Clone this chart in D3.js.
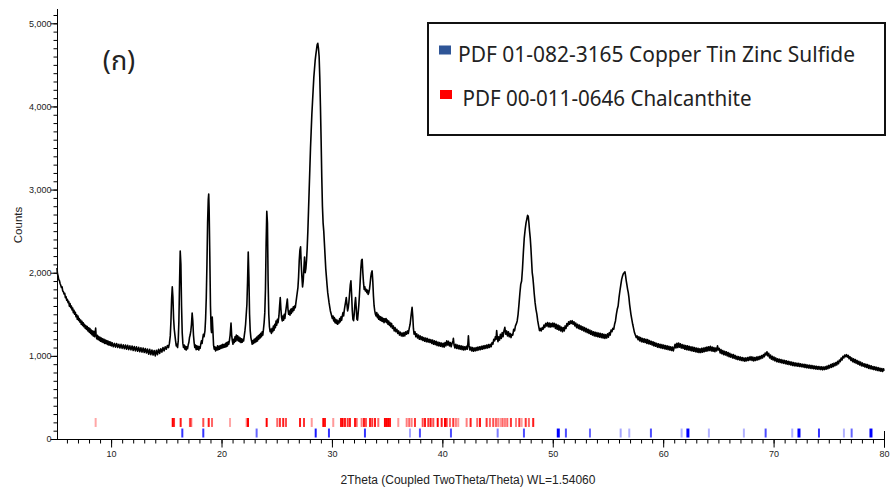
<!DOCTYPE html>
<html><head><meta charset="utf-8">
<script src="https://cdn.jsdelivr.net/npm/d3@7"></script>
<style>body{margin:0;background:#fff}svg{display:block}</style>
</head><body><svg id="c" width="892" height="491"></svg>
<script>
// ---- data ----
const pattern = [[5.10,2057],[5.14,1990],[5.20,1960],[5.26,1915],[5.32,1905],[5.38,1870],[5.44,1850],[5.50,1822],[5.56,1830],[5.62,1780],[5.68,1770],[5.74,1745],[5.80,1752],[5.86,1700],[5.92,1712],[5.98,1668],[6.04,1680],[6.10,1640],[6.16,1655],[6.22,1598],[6.28,1630],[6.34,1580],[6.40,1600],[6.46,1552],[6.52,1575],[6.58,1520],[6.64,1548],[6.70,1500],[6.76,1525],[6.82,1470],[6.88,1495],[6.94,1440],[7.00,1478],[7.06,1425],[7.12,1448],[7.18,1405],[7.24,1432],[7.30,1380],[7.36,1415],[7.42,1365],[7.48,1398],[7.54,1350],[7.60,1378],[7.66,1330],[7.72,1362],[7.78,1318],[7.84,1352],[7.90,1300],[7.96,1338],[8.02,1285],[8.08,1330],[8.14,1270],[8.20,1310],[8.26,1255],[8.32,1300],[8.38,1240],[8.44,1295],[8.50,1230],[8.56,1270],[8.60,1335],[8.64,1250],[8.70,1205],[8.76,1248],[8.82,1196],[8.88,1232],[8.94,1185],[9.00,1222],[9.06,1175],[9.12,1215],[9.18,1168],[9.24,1205],[9.30,1160],[9.36,1198],[9.42,1150],[9.48,1190],[9.54,1148],[9.60,1185],[9.66,1138],[9.72,1178],[9.78,1132],[9.84,1170],[9.90,1128],[9.96,1165],[10.02,1120],
[10.1,1158],[10.2,1110],[10.3,1150],[10.4,1105],[10.5,1148],[10.6,1100],[10.7,1140],[10.8,1095],[10.9,1138],[11.0,1090],[11.1,1132],[11.2,1085],[11.3,1130],[11.4,1080],[11.5,1128],[11.6,1075],[11.7,1120],[11.8,1072],[11.9,1118],[12.0,1065],[12.1,1112],[12.2,1060],[12.3,1108],[12.4,1055],[12.5,1102],[12.6,1050],[12.7,1098],[12.8,1045],[12.9,1095],[13.0,1040],[13.1,1088],[13.2,1035],[13.3,1082],[13.4,1020],[13.5,1078],[13.6,1015],[13.7,1070],[13.8,1010],[13.9,1065],[14.0,1000],[14.1,1068],[14.2,1015],[14.3,1080],[14.4,1030],[14.5,1085],[14.6,1045],[14.7,1100],[14.8,1060],[14.9,1110],
[15.00,1080],[15.10,1125],[15.20,1100],[15.28,1150],[15.36,1240],[15.42,1420],[15.48,1680],[15.54,1830],[15.60,1700],[15.66,1450],[15.72,1320],[15.78,1250],[15.84,1180],[15.90,1120],[15.96,1140],[16.02,1100],[16.08,1180],[16.14,1420],[16.20,1880],[16.26,2260],[16.32,2100],[16.38,1600],[16.44,1280],[16.50,1150],[16.56,1100],[16.62,1130],[16.68,1080],[16.74,1115],[16.80,1070],[16.86,1110],[16.92,1085],[16.98,1130],[17.04,1160],[17.10,1220],[17.16,1250],[17.22,1300],[17.28,1380],[17.34,1515],[17.40,1420],[17.46,1250],[17.52,1160],[17.58,1100],[17.64,1130],[17.70,1075],[17.76,1120],[17.82,1080],[17.88,1115],[17.94,1070],[18.00,1110],[18.06,1090],[18.12,1140],[18.18,1180],[18.24,1150],[18.30,1210],[18.36,1260],[18.42,1230],[18.50,1300],[18.56,1450],[18.62,1700],[18.68,2100],[18.74,2600],[18.80,2880],[18.84,2947],[18.88,2750],[18.94,2200],[19.00,1600],[19.06,1320],[19.10,1280],[19.16,1467],[19.22,1300],[19.28,1130],[19.34,1080],[19.40,1110],[19.46,1060],[19.52,1100],[19.58,1070],[19.64,1120],[19.70,1075],[19.76,1115],[19.82,1080],[19.88,1125],[19.94,1090],[20.00,1130],[20.06,1095],[20.12,1140],[20.18,1100],[20.24,1135],[20.30,1105],[20.36,1150],[20.42,1110],[20.48,1160],[20.54,1120],[20.60,1170],[20.66,1140],[20.72,1190],[20.78,1250],[20.86,1395],[20.92,1250],[20.98,1180],[21.04,1140],[21.10,1200],[21.16,1160],[21.22,1230],[21.28,1175],[21.34,1250],[21.40,1190],[21.46,1240],[21.52,1180],[21.58,1225],[21.64,1170],[21.70,1215],[21.76,1160],[21.82,1205],[21.88,1165],[21.94,1200],[22.00,1180],[22.06,1240],[22.12,1300],[22.18,1380],[22.24,1500],[22.30,1620],[22.36,1900],[22.42,2249],[22.48,1950],[22.54,1500],[22.60,1300],[22.66,1220],[22.72,1180],[22.78,1140],[22.84,1185],[22.90,1150],[22.96,1200],[23.02,1160],[23.08,1210],[23.14,1170],[23.20,1225],[23.26,1180],[23.32,1240],[23.38,1200],[23.44,1255],[23.50,1215],[23.56,1270],[23.62,1230],[23.68,1290],[23.74,1250],[23.80,1320],[23.86,1400],[23.92,1520],[23.98,1800],[24.04,2350],[24.10,2740],[24.16,2600],[24.22,1900],[24.28,1500],[24.34,1350],[24.40,1290],[24.46,1320],[24.52,1270],[24.58,1330],[24.64,1290],[24.70,1360],[24.76,1310],[24.82,1380],[24.88,1340],[24.94,1420],[25.00,1370],[25.06,1440],[25.12,1400],[25.20,1480],[25.26,1600],[25.32,1700],[25.38,1560],[25.44,1460],[25.50,1420],[25.56,1480],[25.62,1430],[25.68,1500],[25.74,1450],[25.80,1520],[25.88,1600],[25.96,1683],[26.02,1560],[26.08,1500],[26.14,1540],[26.20,1490],[26.26,1560],[26.32,1510],[26.38,1570],[26.44,1530],[26.50,1590],[26.56,1550],[26.62,1600],[26.68,1580],[26.74,1640],[26.80,1700],[26.86,1760],[26.92,1820],[26.98,1950],[27.04,2150],[27.10,2270],[27.16,2312],[27.22,2100],[27.28,1950],[27.34,1830],[27.40,1900],[27.46,2050],[27.52,2189],[27.58,2000],[27.64,2050],[27.70,2150],[27.76,2300],[27.82,2500],[27.88,2750],[27.94,3000],[28.00,3250],[28.06,3500],[28.12,3700],[28.18,3900],[28.24,4050],[28.30,4200],[28.36,4350],[28.42,4450],[28.48,4550],[28.54,4620],[28.60,4680],[28.66,4740],[28.72,4759],[28.78,4700],[28.84,4600],[28.90,4350],[28.96,4000],[29.02,3600],[29.08,3150],[29.14,2800],[29.20,2600],[29.26,2500],[29.32,2350],[29.38,2200],[29.44,2050],[29.50,1950],[29.56,1850],[29.62,1760],[29.68,1700],[29.74,1640],[29.80,1590],[29.86,1540],[29.92,1510],[29.98,1480],[30.04,1450],[30.10,1480],[30.16,1420],[30.22,1460],[30.28,1400],[30.34,1440],[30.40,1390],[30.46,1430],[30.52,1380],[30.58,1420],[30.64,1395],[30.70,1450],[30.76,1410],[30.82,1470],[30.88,1430],[30.94,1480],[31.00,1520],[31.06,1480],[31.12,1550],[31.18,1600],[31.24,1650],[31.30,1702],[31.36,1620],[31.42,1540],[31.48,1580],[31.54,1650],[31.60,1750],[31.66,1850],[31.72,1902],[31.78,1750],[31.84,1550],[31.90,1440],[31.96,1423],[32.02,1500],[32.08,1620],[32.14,1702],[32.20,1580],[32.26,1440],[32.32,1430],[32.38,1520],[32.44,1620],[32.50,1750],[32.56,1900],[32.62,2050],[32.68,2150],[32.74,2161],[32.80,2000],[32.86,1880],[32.92,1800],[32.98,1830],[33.04,1780],[33.10,1800],[33.16,1760],[33.22,1790],[33.28,1740],[33.34,1760],[33.40,1800],[33.46,1870],[33.52,1950],[33.58,2000],[33.64,2022],[33.70,1900],[33.76,1720],[33.82,1600],[33.88,1540],[33.94,1500],[34.00,1480],[34.06,1520],[34.12,1460],[34.18,1500],[34.24,1440],[34.30,1480],[34.36,1430],[34.42,1470],[34.48,1420],[34.54,1460],[34.60,1415],[34.66,1450],[34.72,1400],[34.78,1445],[34.84,1410],[34.90,1450],[34.96,1400],[35.02,1430],[35.08,1380],[35.14,1420],[35.20,1370],[35.26,1400],[35.32,1350],[35.40,1390],[35.48,1330],[35.56,1360],[35.64,1300],[35.72,1340],[35.80,1290],[35.88,1320],[35.96,1270],[36.04,1300],[36.12,1250],[36.20,1285],[36.28,1240],[36.36,1275],[36.44,1235],[36.52,1280],[36.60,1240],[36.68,1290],[36.76,1260],[36.84,1300],[36.92,1270],[37.00,1330],[37.08,1380],[37.14,1450],[37.20,1520],[37.26,1583],[37.32,1480],[37.38,1330],[37.44,1260],[37.52,1290],[37.60,1230],[37.68,1265],[37.76,1215],[37.84,1250],[37.92,1200],[38.00,1240],[38.08,1195],[38.16,1230],[38.24,1185],[38.32,1220],[38.40,1175],[38.48,1215],[38.56,1170],[38.64,1210],[38.72,1165],[38.80,1200],[38.88,1160],[38.96,1195],[39.04,1150],[39.12,1190],[39.20,1140],[39.28,1180],[39.36,1135],[39.44,1175],[39.52,1125],[39.60,1165],[39.68,1120],[39.76,1160],[39.84,1115],[39.92,1155],[40.00,1110],[40.08,1150],[40.16,1105],[40.24,1160],[40.32,1120],[40.40,1180],[40.48,1130],[40.56,1175],[40.64,1120],[40.72,1160],[40.80,1110],[40.88,1150],[40.96,1180],[41.00,1210],[41.06,1130],[41.14,1095],[41.22,1140],[41.30,1090],[41.38,1130],[41.46,1085],[41.54,1125],[41.62,1080],[41.70,1120],[41.78,1075],[41.86,1115],[41.94,1070],[42.02,1110],[42.10,1075],[42.18,1115],[42.26,1080],[42.32,1160],[42.36,1240],[42.42,1120],[42.50,1070],[42.58,1105],[42.66,1060],[42.74,1100],[42.82,1055],[42.90,1095],[42.98,1060],[43.06,1100],[43.14,1065],[43.22,1105],[43.30,1070],[43.38,1110],[43.46,1075],[43.54,1115],[43.62,1080],[43.70,1120],[43.78,1085],[43.86,1125],[43.94,1090],[44.02,1130],[44.10,1095],[44.18,1135],[44.26,1100],[44.34,1140],[44.42,1110],[44.50,1160],[44.58,1140],[44.66,1200],[44.74,1180],[44.80,1230],[44.86,1200],[44.92,1304],[44.98,1220],[45.04,1170],[45.10,1230],[45.18,1190],[45.26,1260],[45.34,1210],[45.42,1280],[45.50,1230],[45.58,1300],[45.66,1343],[45.74,1260],[45.82,1300],[45.90,1240],[45.98,1290],[46.06,1230],[46.14,1270],[46.22,1220],[46.30,1260],[46.38,1250],[46.46,1320],[46.54,1300],[46.62,1360],[46.70,1384],[46.78,1420],[46.86,1500],[46.94,1620],[47.02,1750],[47.10,1860],[47.18,1900],[47.26,2050],[47.34,2250],[47.42,2420],[47.50,2520],[47.58,2600],[47.66,2650],[47.72,2690],[47.78,2679],[47.84,2600],[47.90,2500],[47.96,2420],[48.02,2300],[48.08,2150],[48.14,2000],[48.20,1941],[48.26,1850],[48.32,1750],[48.40,1640],[48.48,1560],[48.56,1503],[48.64,1420],[48.72,1360],[48.80,1304],[48.88,1330],[48.96,1300],[49.04,1340],[49.12,1320],[49.20,1370],[49.28,1340],[49.36,1390],[49.44,1360],[49.52,1400],[49.60,1350],[49.68,1395],[49.76,1345],[49.84,1390],[49.92,1350],[50.00,1395],[50.08,1350],[50.16,1390],[50.24,1330],[50.32,1380],[50.40,1320],[50.48,1370],[50.56,1310],[50.64,1360],[50.72,1300],[50.80,1345],[50.88,1290],[50.96,1340],[51.04,1300],[51.12,1360],[51.20,1330],[51.28,1390],[51.36,1360],[51.44,1410],[51.52,1380],[51.60,1420],[51.68,1390],[51.76,1423],[51.84,1380],[51.92,1410],[52.00,1360],[52.08,1395],[52.16,1340],[52.24,1380],[52.32,1330],[52.40,1370],[52.48,1320],[52.56,1360],[52.64,1310],[52.72,1350],[52.80,1300],[52.88,1340],[52.96,1290],[53.04,1330],[53.12,1280],[53.20,1320],[53.28,1270],[53.36,1310],[53.44,1260],[53.52,1300],[53.60,1250],[53.68,1290],[53.76,1240],[53.84,1285],[53.92,1235],[54.00,1280],[54.08,1230],[54.16,1275],[54.24,1225],[54.32,1270],[54.40,1220],[54.48,1265],[54.56,1215],[54.64,1260],[54.72,1210],[54.80,1255],[54.88,1215],[54.96,1265],[55.04,1225],[55.12,1280],[55.20,1250],[55.28,1310],[55.36,1290],[55.44,1330],[55.52,1320],[55.60,1380],[55.68,1420],[55.76,1500],[55.84,1560],[55.92,1600],[56.00,1700],[56.08,1780],[56.16,1850],[56.24,1920],[56.32,1960],[56.40,1990],[56.48,2001],[56.54,2010],[56.60,1960],[56.66,1900],[56.72,1850],[56.78,1800],[56.84,1760],[56.90,1700],[56.96,1620],[57.02,1560],[57.08,1500],[57.16,1440],[57.24,1380],[57.32,1330],[57.40,1280],[57.48,1250],[57.56,1220],[57.64,1240],[57.72,1195],[57.80,1230],[57.88,1180],[57.96,1220],[58.04,1170],[58.12,1210],[58.20,1165],[58.28,1205],[58.36,1160],[58.44,1200],[58.52,1150],[58.60,1195],[58.68,1145],[58.76,1185],[58.84,1140],[58.92,1175],[59.00,1130],[59.08,1170],[59.16,1120],[59.24,1160],[59.32,1115],[59.40,1150],[59.48,1105],[59.56,1145],[59.64,1100],[59.72,1140],[59.80,1095],[59.88,1135],[59.96,1090],[60.04,1130],[60.12,1085],[60.20,1125],[60.28,1080],[60.36,1120],[60.44,1075],[60.52,1115],[60.60,1070],[60.68,1110],[60.76,1065],[60.84,1105],[60.92,1060],[61.00,1100],[61.08,1140],[61.16,1095],[61.24,1150],[61.32,1100],[61.40,1155],[61.48,1105],[61.56,1145],[61.64,1095],[61.72,1135],[61.80,1090],[61.88,1130],[61.96,1080],[62.04,1125],[62.12,1075],[62.20,1120],[62.28,1070],[62.36,1115],[62.44,1065],[62.52,1110],[62.60,1060],[62.68,1105],[62.76,1055],[62.84,1100],[62.92,1050],[63.00,1095],[63.08,1045],[63.16,1090],[63.24,1040],[63.32,1085],[63.40,1040],[63.48,1090],[63.56,1045],[63.64,1095],[63.72,1050],[63.80,1100],[63.88,1055],[63.96,1105],[64.04,1060],[64.12,1110],[64.20,1065],[64.28,1115],[64.36,1060],[64.44,1105],[64.52,1055],[64.60,1100],[64.68,1050],[64.76,1095],[64.84,1060],[64.92,1120],[65.00,1070],[65.08,1090],[65.16,1035],[65.24,1075],[65.32,1025],[65.40,1065],[65.48,1015],[65.56,1055],[65.64,1010],[65.72,1050],[65.80,1000],[65.88,1040],[65.96,990],[66.04,1030],[66.12,985],[66.20,1020],[66.28,975],[66.36,1015],[66.44,970],[66.52,1005],[66.60,960],[66.68,995],[66.76,955],[66.84,990],[66.92,950],[67.00,985],[67.08,945],[67.16,980],[67.24,940],[67.32,975],[67.40,935],[67.48,975],[67.56,940],[67.64,980],[67.72,945],[67.80,985],[67.88,950],[67.96,990],[68.04,945],[68.12,985],[68.20,940],[68.28,980],[68.36,945],[68.44,985],[68.52,950],[68.60,990],[68.68,955],[68.76,995],[68.84,965],[68.92,1005],[69.00,975],[69.08,1015],[69.16,990],[69.24,1035],[69.32,1010],[69.40,1050],[69.48,1000],[69.56,1030],[69.64,975],[69.72,1010],[69.80,960],[69.88,995],[69.96,950],[70.04,985],[70.12,940],[70.20,975],[70.28,930],[70.36,965],[70.44,925],[70.52,960],[70.60,920],[70.68,955],[70.76,915],[70.84,950],[70.92,910],[71.00,945],[71.08,905],[71.16,940],[71.24,900],[71.32,935],[71.40,895],[71.48,930],[71.56,890],[71.64,925],[71.72,885],[71.80,920],[71.88,880],[71.96,915],[72.04,878],[72.12,912],[72.20,875],[72.28,910],[72.36,872],[72.44,905],[72.52,870],[72.60,900],[72.68,865],[72.76,898],[72.84,860],[72.92,895],[73.00,858],[73.08,890],[73.16,855],[73.24,888],[73.32,850],[73.40,885],[73.48,848],[73.56,882],[73.64,845],[73.72,878],[73.80,842],[73.88,875],[73.96,840],[74.04,872],[74.12,838],[74.20,870],[74.28,835],[74.36,868],[74.44,832],[74.52,865],[74.60,835],[74.68,870],[74.76,840],[74.84,878],[74.92,845],[75.00,885],[75.08,855],[75.16,895],[75.24,862],[75.32,905],[75.40,870],[75.48,912],[75.56,880],[75.64,920],[75.72,890],[75.80,935],[75.88,905],[75.96,950],[76.04,930],[76.12,975],[76.20,950],[76.28,995],[76.36,975],[76.44,1010],[76.52,990],[76.60,1015],[76.68,985],[76.76,1005],[76.84,965],[76.92,990],[77.00,945],[77.08,975],[77.16,930],[77.24,965],[77.32,920],[77.40,955],[77.48,910],[77.56,945],[77.64,900],[77.72,935],[77.80,890],[77.88,925],[77.96,880],[78.04,915],[78.12,875],[78.20,905],[78.28,865],[78.36,900],[78.44,860],[78.52,895],[78.60,850],[78.68,885],[78.76,845],[78.84,880],[78.92,840],[79.00,872],[79.08,835],[79.16,868],[79.24,830],[79.32,862],[79.40,825],[79.48,858],[79.56,820],[79.64,852],[79.72,815],[79.80,848],[79.88,812],[79.96,845],[80.00,820]];

const xMajorTicks = [10, 20, 30, 40, 50, 60, 70, 80];
const yMajorTicks = [0, 1000, 2000, 3000, 4000, 5000];

// reference pattern PDF 01-082-3165 (Copper Tin Zinc Sulfide): 2theta and relative intensity
const cztsPos = [16.45,18.35,23.18,28.53,29.73,32.99,37.07,37.97,40.78,45.01,47.39,50.50,51.19,53.37,56.15,56.93,58.89,61.67,62.24,64.14,67.31,69.28,71.69,72.30,74.11,76.37,77.07,78.82];
const cztsInt = [0.8,0.8,0.6,0.9,0.8,0.8,0.35,0.7,0.7,0.5,0.7,1,0.7,0.6,0.35,0.3,0.7,0.3,1,0.3,0.3,0.7,0.3,1,0.8,0.3,0.6,1];

// reference pattern PDF 00-011-0646 (Chalcanthite)
const chalPos = [8.60,15.58,15.70,16.30,17.14,17.26,18.35,18.84,19.14,20.77,22.28,22.40,24.09,25.05,25.29,25.59,25.84,27.11,27.47,28.17,29.22,29.37,30.12,30.82,30.97,31.18,31.43,31.63,32.09,32.24,32.69,32.90,33.08,33.45,33.65,33.90,34.20,34.80,34.96,35.10,35.26,36.01,36.77,37.00,37.22,37.52,38.22,38.43,38.73,38.94,39.18,39.58,39.94,40.24,40.39,40.69,40.99,41.23,41.44,42.20,42.56,43.16,43.41,44.01,44.31,44.61,44.86,45.06,45.28,45.46,45.67,45.88,46.21,46.67,46.97,47.18,47.55,47.84,48.23];
const chalInt = [0.35,1,0.8,0.9,0.7,0.6,0.7,0.9,0.6,0.35,0.5,1,1,0.6,0.8,0.9,0.7,0.9,0.8,0.4,1,0.9,0.4,0.9,1,0.9,0.8,0.9,0.9,0.6,0.5,0.9,0.7,0.9,0.8,0.9,0.6,1,1,1,0.9,0.4,0.5,0.6,0.5,0.8,0.7,0.9,0.8,0.9,0.7,1,0.9,1,0.8,0.6,0.8,0.5,0.4,0.5,0.9,0.6,0.9,0.8,0.6,0.7,0.6,0.5,0.4,0.6,0.5,0.6,0.8,0.5,0.8,0.4,0.8,0.6,0.9];

const legendLabels = ["PDF 01-082-3165 Copper Tin Zinc Sulfide", "PDF 00-011-0646 Chalcanthite"];
const panelLabel = "(ก)";
const xTitle = "2Theta (Coupled TwoTheta/Theta) WL=1.54060";
const yTitle = "Counts";

// ---- drawing ----
const svg = d3.select("#c");
const x = d3.scaleLinear().domain([5.1, 80]).range([57, 884]);
const y = d3.scaleLinear().domain([0, 5000]).range([439, 23.3]);
const tickFont = "'Liberation Sans', Arial, sans-serif";

// reference sticks
const rows = d3.scaleBand().domain(["chal", "czts"]).range([418, 437.5]).paddingInner(0.15);
const op = d3.scaleLinear().domain([0, 1]).range([0, 1]);
svg.append("g").selectAll("rect").data(chalPos.map((p, i) => [p, chalInt[i]])).join("rect")
  .attr("x", d => x(d[0]) - 1).attr("width", 2)
  .attr("y", rows("chal")).attr("height", rows.bandwidth())
  .attr("fill", "#ff0000").attr("fill-opacity", d => op(d[1]));
svg.append("g").selectAll("rect").data(cztsPos.map((p, i) => [p, cztsInt[i]])).join("rect")
  .attr("x", d => x(d[0]) - (d[1] >= 1 ? 1.5 : 1)).attr("width", d => d[1] >= 1 ? 3 : 2)
  .attr("y", rows("czts")).attr("height", rows.bandwidth())
  .attr("fill", "#0000ff").attr("fill-opacity", d => op(d[1]));

// pattern line
const line = d3.line().x(d => x(d[0])).y(d => y(d[1]));
svg.append("path").datum(pattern).attr("d", line)
  .attr("fill", "none").attr("stroke", "#000").attr("stroke-width", 1.6).attr("stroke-linejoin", "round");

// x axis
const gx = svg.append("g").attr("transform", "translate(0,439.5)");
gx.call(d3.axisBottom(x).tickValues(d3.range(6, 81)).tickSize(4).tickSizeOuter(0).tickFormat(""));
gx.call(g => g.select(".domain").remove());
const gx2 = svg.append("g").attr("transform", "translate(0,439.5)");
gx2.call(d3.axisBottom(x).tickValues(xMajorTicks).tickSize(8).tickSizeOuter(0).tickFormat(d3.format("d")));
gx2.select(".domain").attr("d", `M57,0H884.5`);
gx2.selectAll("text").attr("font-family", tickFont).attr("font-size", 9).attr("fill", "#222").attr("y", 11);
svg.append("line").attr("x1", 884.5).attr("x2", 884.5).attr("y1", 431).attr("y2", 447.5).attr("stroke", "#000");

// y axis
const gy = svg.append("g").attr("transform", "translate(57.5,0)");
gy.call(d3.axisLeft(y).tickValues(d3.range(0, 5101, 100)).tickSize(4).tickSizeOuter(0).tickFormat(""));
gy.call(g => g.select(".domain").remove());
const gy2 = svg.append("g").attr("transform", "translate(57.5,0)");
gy2.call(d3.axisLeft(y).tickValues(yMajorTicks).tickSize(7).tickSizeOuter(0).tickFormat(d3.format(",")));
gy2.select(".domain").attr("d", `M0,9V440`);
gy2.selectAll("text").attr("font-family", tickFont).attr("font-size", 9).attr("fill", "#222").attr("x", -6);
svg.selectAll(".tick line").attr("stroke", "#000");

// axis titles
svg.append("text").attr("x", 468).attr("y", 484).attr("text-anchor", "middle")
  .attr("font-family", tickFont).attr("font-size", 12).attr("fill", "#222").text(xTitle);
svg.append("text").attr("transform", "translate(22,225) rotate(-90)").attr("text-anchor", "middle")
  .attr("font-family", tickFont).attr("font-size", 11.5).attr("fill", "#222").text(yTitle);

// panel label
svg.append("text").attr("x", 119).attr("y", 70).attr("text-anchor", "middle")
  .attr("font-family", "'Noto Sans Thai','Loma','Garuda','DejaVu Sans',sans-serif").attr("font-size", 27).attr("fill", "#222").text(panelLabel);

// legend
const lg = svg.append("g");
lg.append("rect").attr("x", 428).attr("y", 23).attr("width", 457).attr("height", 112)
  .attr("fill", "#fff").attr("stroke", "#111").attr("stroke-width", 2);
const legColors = ["#2f5597", "#ff0000"];
const legY = d3.scalePoint().domain(legendLabels).range([61.5, 106]);
const legW = [397, 289];
legendLabels.forEach((lab, i) => {
  lg.append("rect").attr("x", 439 + i).attr("y", legY(lab) - 16).attr("width", 12).attr("height", 9).attr("fill", legColors[i]);
  lg.append("text").attr("x", 458 + i * 4.5).attr("y", legY(lab))
    .attr("font-family", "'Noto Sans','Open Sans',sans-serif").attr("font-size", 21).attr("fill", "#222")
    .attr("textLength", legW[i]).attr("lengthAdjust", "spacingAndGlyphs").text(lab);
});
</script></body></html>
